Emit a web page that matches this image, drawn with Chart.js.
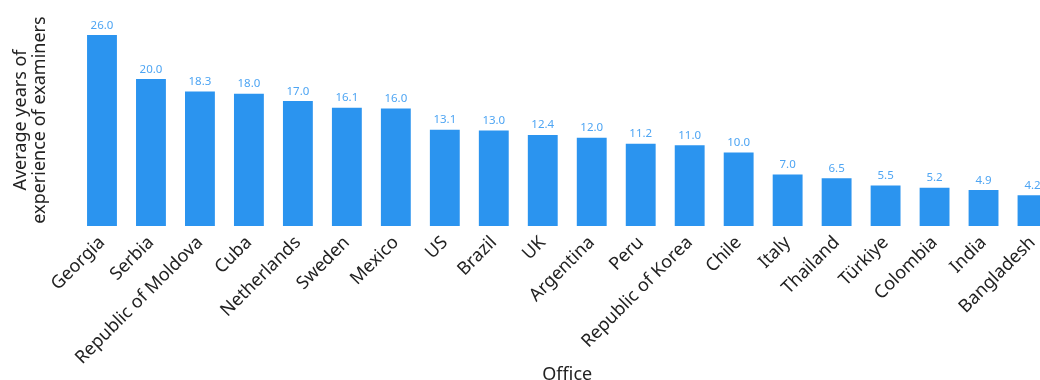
<!DOCTYPE html>
<html><head><meta charset="utf-8">
<script src="https://cdn.jsdelivr.net/npm/chart.js@4"></script>
<style>
html,body{margin:0;padding:0;overflow:hidden;background:#fff;}
#wrap{position:relative;width:1057px;height:384px;}
</style></head>
<body><div id="wrap"><canvas id="c"></canvas></div>
<script>
const categories = ["Georgia","Serbia","Republic of Moldova","Cuba","Netherlands","Sweden","Mexico","US","Brazil","UK","Argentina","Peru","Republic of Korea","Chile","Italy","Thailand","Türkiye","Colombia","India","Bangladesh"];
const yearsOfExperience = [26.0,20.0,18.3,18.0,17.0,16.1,16.0,13.1,13.0,12.4,12.0,11.2,11.0,10.0,7.0,6.5,5.5,5.2,4.9,4.2];
const yTitle = ["Average years of","experience of examiners"];
const xTitle = "Office";

const FONT = "'Noto Sans', sans-serif";
const labelPlugin = {
  id:'barLabels',
  afterDatasetsDraw(chart){
    const ctx = chart.ctx;
    const meta = chart.getDatasetMeta(0);
    ctx.save();
    ctx.font = "11.5px " + FONT;
    ctx.fillStyle = "#4ea5f3";
    ctx.textAlign = "center";
    ctx.textBaseline = "bottom";
    meta.data.forEach((bar,i)=>{
      ctx.fillText(yearsOfExperience[i].toFixed(1), bar.x, bar.y - 4);
    });
    // y axis title (two lines, rotated)
    ctx.font = "18px " + FONT;
    ctx.fillStyle = "#222";
    ctx.textBaseline = "middle";
    ctx.textAlign = "center";
    const xs = [21, 40];
    yTitle.forEach((t,i)=>{
      ctx.save();
      ctx.translate(xs[i], 120);
      ctx.rotate(-Math.PI/2);
      ctx.fillText(t, 0, 0);
      ctx.restore();
    });
    ctx.restore();
  }
};

new Chart(document.getElementById('c'), {
  type:'bar',
  data:{labels:categories, datasets:[{data:yearsOfExperience, backgroundColor:'#2b94ef', borderWidth:0, barPercentage:0.61, categoryPercentage:1.0}]},
  options:{
    responsive:true, maintainAspectRatio:false, animation:false,
    layout:{padding:{top:35,left:0,right:0,bottom:0}},
    plugins:{legend:{display:false}, tooltip:{enabled:false}},
    scales:{
      x:{
        grid:{display:false}, border:{display:false},
        ticks:{minRotation:45,maxRotation:45,color:'#222',font:{family:FONT,size:18},padding:-2,autoSkip:false},
        title:{display:true,text:xTitle,color:'#222',font:{family:FONT,size:18,lineHeight:1.0},padding:{top:0,bottom:0}},
        afterFit(scale){ scale.height = 384 - 35 - 191 - 0; }
      },
      y:{
        min:0,max:26,
        grid:{display:false}, border:{display:false},
        ticks:{display:false},
        title:{display:false},
        afterFit(scale){ scale.width = 77.5; }
      }
    }
  },
  plugins:[labelPlugin]
});
</script></body></html>
